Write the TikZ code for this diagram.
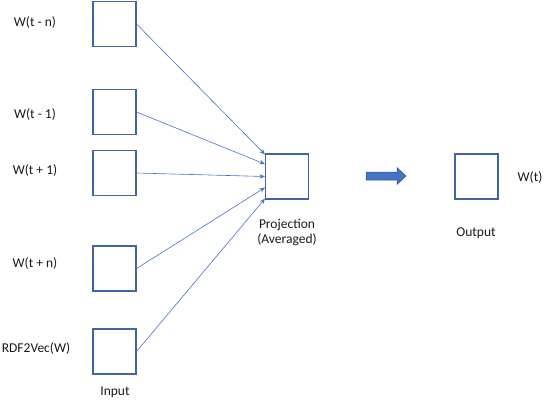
\documentclass[tikz,border=0pt]{standalone}
\usepackage{fontspec}
\setmainfont{Carlito}
\usetikzlibrary{arrows.meta,calc}
\definecolor{boxline}{HTML}{41669F}
\definecolor{conn}{HTML}{4472C4}
\definecolor{arrfill}{HTML}{4472C4}
\definecolor{arrline}{HTML}{2F528F}
\begin{document}
\begin{tikzpicture}[x=1pt,y=-1pt,
  cell/.style={draw=boxline,line width=1.1pt,minimum width=43pt,minimum height=45pt,inner sep=0pt},
  lbl/.style={font=\fontsize{13.5}{15}\selectfont,inner sep=0pt,text=black!90},
  conline/.style={draw=conn,line width=0.6pt,-{Stealth[length=5.5pt,width=4.5pt]}},
  blockarrow/.style={draw=arrline,fill=arrfill,line width=0.5pt,line join=miter}]
\useasboundingbox (0,0) rectangle (548,400);
\node[cell] (b1) at (114.5,24) {};
\node[cell] (b2) at (114.5,112) {};
\node[cell] (b3) at (114.5,173) {};
\node[cell] (b4) at (114.5,268.5) {};
\node[cell] (b5) at (114.5,351.5) {};
\node[cell] (p) at (287,176.5) {};
\node[cell] (o) at (476.5,176.5) {};
\coordinate (e1) at ($(p.north west)!0.02!(p.south west)$);
\coordinate (e2) at ($(p.north west)!0.23!(p.south west)$);
\coordinate (e3) at ($(p.north west)!0.50!(p.south west)$);
\coordinate (e4) at ($(p.north west)!0.74!(p.south west)$);
\coordinate (e5) at ($(p.north west)!0.98!(p.south west)$);
\draw[conline] (b1.east) -- (e1);
\draw[conline] (b2.east) -- (e2);
\draw[conline] (b3.east) -- (e3);
\draw[conline] (b4.east) -- (e4);
\draw[conline] (b5.east) -- (e5);
\node[lbl] (l1) at (35,22) {W(t - n)};
\node[lbl] (l2) at (35,114) {W(t - 1)};
\node[lbl] (l3) at (35,170) {W(t + 1)};
\node[lbl] (l4) at (35,263) {W(t + n)};
\node[lbl] (l5) at (36,348) {RDF2Vec(W)};
\node[lbl] (lin) at (115,392) {Input};
\node[lbl,align=center] (lp) at (287,232) {Projection\\[0pt](Averaged)};
\node[lbl] (lo) at (476,233) {Output};
\node[lbl] (lw) at (530,177) {W(t)};
\draw[blockarrow] (366,172) -- (397,172) -- (397,167.5) -- (406,176) -- (397,184.5) -- (397,180) -- (366,180) -- cycle;
\end{tikzpicture}
\end{document}
